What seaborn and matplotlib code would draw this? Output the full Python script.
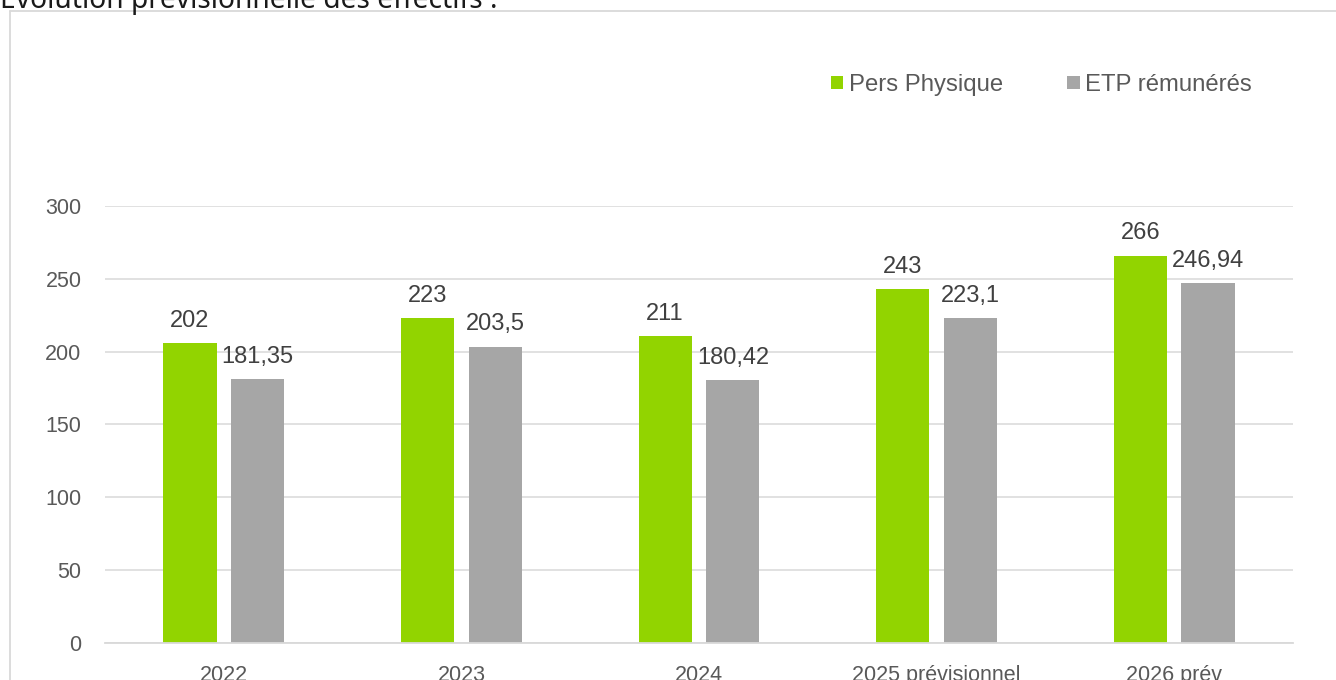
import pandas as pd
import matplotlib.pyplot as plt
import seaborn as sns
from matplotlib.patches import Patch
from matplotlib.lines import Line2D

# données
annees = ['2022', '2023', '2024', '2025 prévisionnel', '2026 prév']
pers_physique = [206, 223, 211, 243, 266]
etp_remuneres = [181.35, 203.5, 180.42, 223.1, 246.94]
etiquettes_pp = ['202', '223', '211', '243', '266']
etiquettes_etp = ['181,35', '203,5', '180,42', '223,1', '246,94']
series = ['Pers Physique', 'ETP rémunérés']
couleurs = ['#92D400', '#A6A6A6']
yticks = [0, 50, 100, 150, 200, 250, 300]

df = pd.DataFrame({
    'annee': annees * 2,
    'valeur': pers_physique + etp_remuneres,
    'serie': [series[0]] * len(annees) + [series[1]] * len(annees),
})

sns.set_style('white')
plt.rcParams['font.family'] = ['Liberation Sans', 'DejaVu Sans']

W, H = 1336, 680
fig = plt.figure(figsize=(W / 100, H / 100), dpi=100)
ax = fig.add_axes([105 / W, 1 - 643 / H, (1293 - 105) / W, (643 - 206) / H])

sns.barplot(data=df, x='annee', y='valeur', hue='serie', order=annees,
            hue_order=series, palette=couleurs, width=0.57, gap=0.215,
            errorbar=None, linewidth=0, saturation=1, ax=ax, legend=False)

# étiquettes de données
for cont, labs in zip(ax.containers, [etiquettes_pp, etiquettes_etp]):
    ax.bar_label(cont, labels=labs, padding=8, fontsize=17, color='#404040')

ax.set_ylim(0, 300)
ax.set_xlim(-0.5, len(annees) - 0.5)
ax.set_yticks(yticks)
ax.set_xlabel('')
ax.set_ylabel('')
ax.yaxis.grid(True, color='#D9D9D9', linewidth=1.1)
ax.set_axisbelow(True)
for s in ['top', 'right', 'left']:
    ax.spines[s].set_visible(False)
ax.spines['bottom'].set_color('#D9D9D9')
ax.spines['bottom'].set_linewidth(1.3)
ax.tick_params(axis='y', length=0, pad=17, labelsize=15.5, labelcolor='#595959')
ax.tick_params(axis='x', length=0, pad=16, labelsize=15.5, labelcolor='#595959')

# légende
poignees = [Patch(facecolor=c, edgecolor='none') for c in couleurs]
fig.legend(poignees, series, loc='center left', ncol=2,
           bbox_to_anchor=(831 / W, 1 - 85 / H), frameon=False,
           fontsize=17.2, labelcolor='#595959', handlelength=0.52,
           handleheight=0.52, handletextpad=0.22, columnspacing=2.7,
           borderpad=0, borderaxespad=0)

# cadre du graphique
fig.add_artist(Line2D([10 / W, 10 / W], [0, 1 - 11 / H], transform=fig.transFigure,
                      color='#D9D9D9', linewidth=1.3))
fig.add_artist(Line2D([10 / W, 1], [1 - 11 / H, 1 - 11 / H], transform=fig.transFigure,
                      color='#D9D9D9', linewidth=1.3))

# titre (coupé en haut)
fig.text(0, 1 - 8 / H, 'Évolution prévisionnelle des effectifs :', ha='left',
         va='baseline', fontsize=20.3, color='#1a1a1a', family=['Noto Sans', 'DejaVu Sans'])

fig.savefig('out.png', dpi=100)
